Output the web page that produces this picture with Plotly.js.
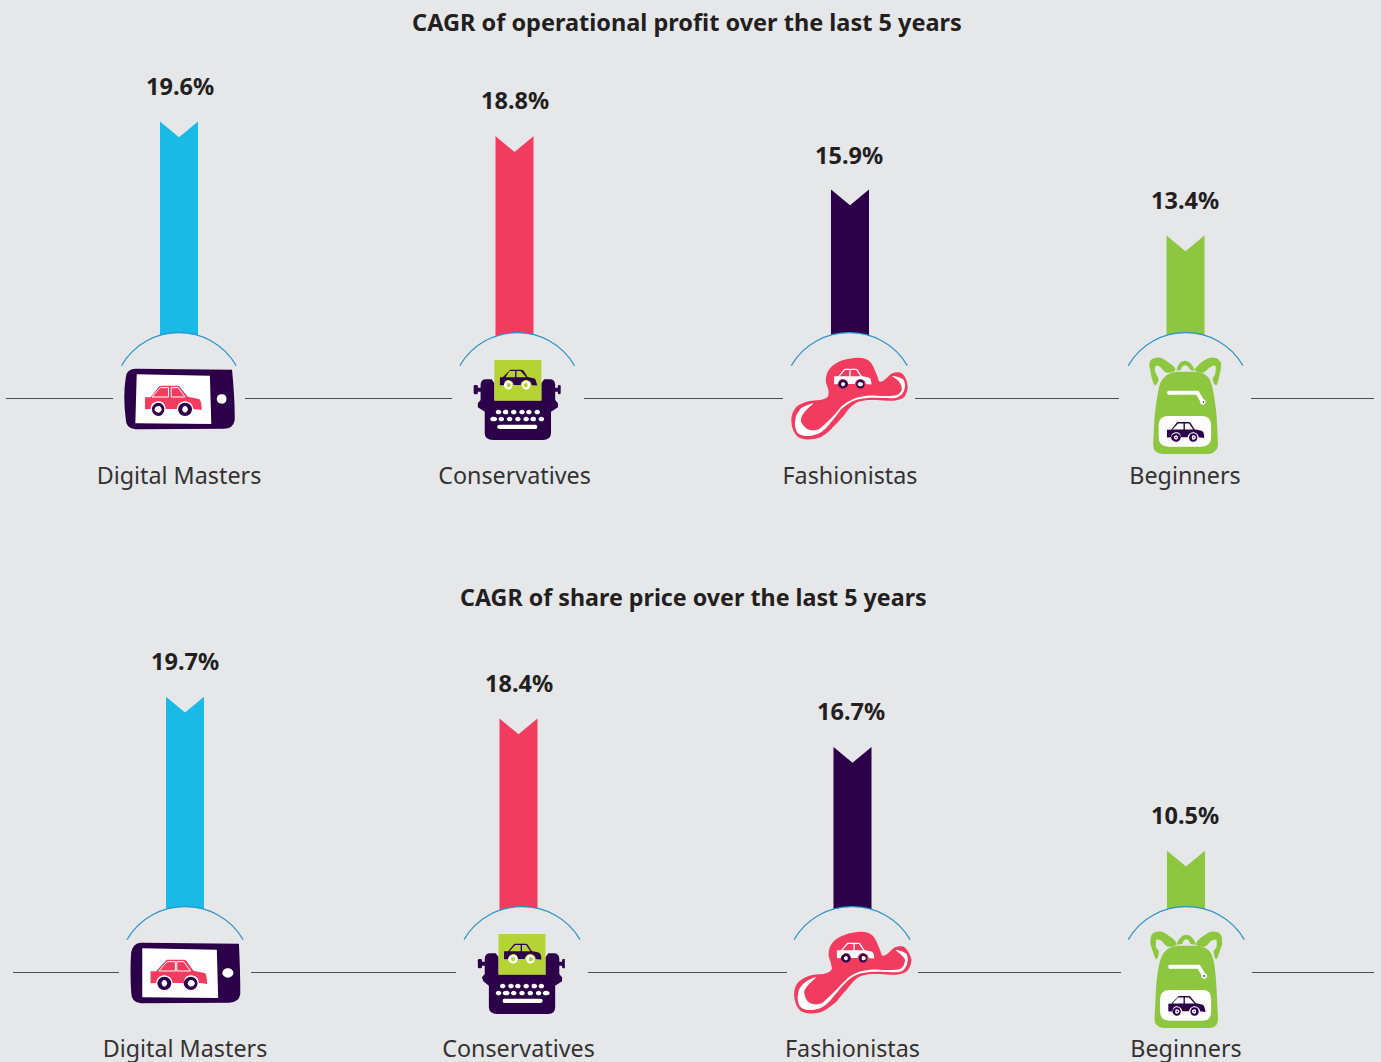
<!DOCTYPE html>
<html><head><meta charset="utf-8">
<script src="https://cdn.plot.ly/plotly-3.0.1.min.js"></script>
<style>html,body{margin:0;padding:0;background:#e6e7e9;overflow:hidden}#c{width:1381px;height:1062px}</style>
</head><body><div id="c"></div>
<script>
const categories = ["Digital Masters","Conservatives","Fashionistas","Beginners"];
const profitCagr = [19.6,18.8,15.9,13.4];
const shareCagr  = [19.7,18.4,16.7,10.5];
const profitBarX = [179,514.5,850,1185.5];
const shareBarX  = [185,518.5,852.5,1186];
const profitTickX = [179,514.5,850,1185];
const shareTickX  = [185,518.5,852.5,1186];
const profitValueX = [179.5,515,849,1184.5];
const shareValueX  = [185,519,850.5,1184.5];
const profitValueShift = [35,35.5,34,35];
const shareValueShift  = [35.5,35,35.5,35.5];
const barColors = ["#19bbe6","#f13c60","#2b0049","#8dc63f"];
const titleTop = "CAGR of operational profit over the last 5 years";
const titleBottom = "CAGR of share price over the last 5 years";
const BG = "#e6e7e9", DARK="#2b0049", RED="#f13c60", GREEN="#8dc63f", LIME="#b5d334", WHITE="#ffffff";

const W=1381,H=1062;
const px=x=>x/W, py=y=>1-y/H;
const shapes=[];

// ---------- icon helpers: paths are authored in 3x crop coordinates
function mapPath(d,f){
  return d.replace(/(-?\d+(?:\.\d+)?)\s+(-?\d+(?:\.\d+)?)/g,(m,a,b)=>{
    const p=f(+a,+b);return p[0].toFixed(3)+" "+p[1].toFixed(5);
  });
}
function ell(cx,cy,rx,ry){ry=ry===undefined?rx:ry;const k=.5523;
  return `M ${cx-rx} ${cy} C ${cx-rx} ${cy-k*ry} ${cx-k*rx} ${cy-ry} ${cx} ${cy-ry} C ${cx+k*rx} ${cy-ry} ${cx+rx} ${cy-k*ry} ${cx+rx} ${cy} C ${cx+rx} ${cy+k*ry} ${cx+k*rx} ${cy+ry} ${cx} ${cy+ry} C ${cx-k*rx} ${cy+ry} ${cx-rx} ${cy+k*ry} ${cx-rx} ${cy} Z`;}
function rr(x0,y0,x1,y1,r){
  return `M ${x0+r} ${y0} L ${x1-r} ${y0} Q ${x1} ${y0} ${x1} ${y0+r} L ${x1} ${y1-r} Q ${x1} ${y1} ${x1-r} ${y1} L ${x0+r} ${y1} Q ${x0} ${y1} ${x0} ${y1-r} L ${x0} ${y0+r} Q ${x0} ${y0} ${x0+r} ${y0} Z`;}
// closed smooth outline through hand-traced icon points
function blob(p){
  const n=p.length,g=i=>p[(i+n)%n];let d=`M ${p[0][0]} ${p[0][1]}`;
  for(let i=0;i<n;i++){const a=g(i-1),b=g(i),c=g(i+1),e=g(i+2);
    d+=` C ${(b[0]+(c[0]-a[0])/6).toFixed(2)} ${(b[1]+(c[1]-a[1])/6).toFixed(2)} ${(c[0]-(e[0]-b[0])/6).toFixed(2)} ${(c[1]-(e[1]-b[1])/6).toFixed(2)} ${c[0]} ${c[1]}`;}
  return d+" Z";}
function car(x0,y0,s,c){
  const T=d=>mapPath(d,(x,y)=>[x0+x*s,y0+y*s]);
  const out=[];
  out.push({d:T("M 0 73 L 0 37 L 15 37 L 43 5 Q 45 2 50 2 L 98 2 Q 102 2 105 5 L 127 35 L 160 42 Q 168 45 170 75 Q 150 72 140 72 L 30 72 Z"),fill:c.body});
  const wl=["M 22 36 L 47 8 L 72 8 L 72 36 Z","M 78 8 L 98 8 L 120 36 L 78 36 Z"];
  wl.forEach(w=>out.push({d:T(w),fill:c.win,lc:c.winLine,lw:c.winLine?1:0}));
  [40,120].forEach(wx=>{
    out.push({d:T(ell(wx,73,24)),fill:c.ring});
    out.push({d:T(ell(wx,73,20)),fill:c.tyre});
    out.push({d:T(ell(wx,73,10)),fill:c.hub});
    if(c.dot) out.push({d:T(ell(wx,73,3.5)),fill:c.dot});
  });
  return out;
}
const icons={
 phone:{crop:[100,320],els:[
  {d:"M 105 146 L 397 149 Q 403 230 403 300 Q 400 326 370 326 L 105 328 Q 76 326 75 295 Q 70 230 75 175 Q 78 148 105 146 Z",fill:DARK},
  {d:"M 110 163 L 331 167 L 335 312 L 107 310 Z",fill:WHITE},
  {d:ell(365,237,16,14),fill:WHITE},
  ...car(135,195,1,{body:RED,win:RED,winLine:WHITE,ring:WHITE,tyre:DARK,hub:WHITE})
 ],arc:[237,137]},
 typewriter:{crop:[440,320],els:[
  {d:rr(102,195,113,223,4),fill:DARK},{d:rr(352,195,363,223,4),fill:DARK},
  {d:rr(108,203,125,215,0),fill:DARK},{d:rr(340,203,357,215,0),fill:DARK},
  {d:"M 120 195 Q 120 178 138 178 L 153 178 L 163 190 L 163 241 L 303 241 L 303 190 L 313 178 L 328 178 Q 345 178 345 195 L 345 240 L 352 250 L 352 262 L 332 275 L 332 340 Q 332 360 310 360 L 157 360 Q 135 360 135 340 L 135 275 L 115 262 L 113 250 L 120 240 Z",fill:DARK},
  {d:rr(163,120,303,242,0),fill:LIME},
  ...car(180,148,.65,{body:DARK,win:LIME,ring:LIME,tyre:WHITE,hub:LIME}),
  ...[175,198,221,245,268,291].map(x=>({d:ell(x,276,8.5,7),fill:WHITE})),
  ...[161,185,209,233,257,281,305].map(x=>({d:ell(x,297,8.5,7),fill:WHITE})),
  {d:rr(173,314,293,327,6),fill:WHITE}
 ],arc:[232.5,137]},
 hat:{crop:[770,320],els:[
  {d:blob([[168,180],[180,145],[215,122],[265,113],[300,125],[320,165],[330,185],[347,178],[365,160],[395,160],[414,195],[402,230],[370,242],[320,240],[280,242],[250,254],[220,287],[190,322],[150,352],[105,358],[75,342],[65,300],[75,265],[110,245],[150,240],[172,232],[177,215]]),fill:RED},
  {d:blob([[130,250],[95,265],[75,300],[80,335],[108,348],[150,338],[185,305],[215,268],[250,243],[290,234],[345,234],[385,232],[405,205],[398,178],[368,168],[388,185],[396,205],[382,224],[345,228],[290,227],[250,237],[215,260],[180,298],[145,328],[112,328],[95,305],[100,280]]),fill:WHITE},
  ...car(193,145,.65,{body:WHITE,win:RED,ring:RED,tyre:DARK,hub:WHITE})
 ],arc:[237.5,137]},
 backpack:{crop:[1110,320],els:[
  {d:blob([[133,195],[120,150],[122,122],[150,113],[180,130],[197,150],[172,158],[150,140],[136,138],[136,160],[145,178]]),fill:GREEN},
  {d:blob([[319,195],[332,150],[330,122],[302,113],[272,130],[255,150],[280,158],[302,140],[316,138],[316,160],[307,178]]),fill:GREEN},
  {d:"M 198 152 Q 205 123 226 122 Q 247 123 254 152 L 240 150 Q 235 136 226 136 Q 217 136 212 150 Z",fill:GREEN},
  {d:"M 150 190 Q 165 157 200 155 L 255 155 Q 295 157 305 190 Q 312 210 318 290 L 323 375 Q 322 400 295 402 L 160 402 Q 130 400 130 375 L 135 290 Q 140 220 150 190 Z",fill:GREEN},
  {d:"M 177 218 L 262 218 L 280 246",fill:"none",lc:WHITE,lw:4},
  {d:ell(177,218,6),fill:WHITE},
  {d:ell(280,246,8),fill:WHITE},
  {d:ell(280,246,2.5),fill:DARK},
  {d:rr(148,288,302,380,28),fill:WHITE},
  ...car(172,305,.65,{body:DARK,win:WHITE,ring:WHITE,tyre:DARK,hub:WHITE,dot:DARK})
 ],arc:[225.5,137]}
};
function drawIcon(name,dx,dy){
  const ic=icons[name],[cx,cy]=ic.crop;
  const f=(x,y)=>[px(cx+x/3+dx),py(cy+y/3+dy)];
  // arch in crop coordinates: half chord 172.5, peak 99 above the chord
  const [ax,ay]=ic.arc;
  const a=`M ${ax-172.5} ${ay} C ${ax-98} ${ay-132} ${ax+98} ${ay-132} ${ax+172.5} ${ay}`;
  shapes.push({type:"path",xref:"paper",yref:"paper",path:mapPath(a+" Z",f),fillcolor:BG,line:{width:0}});
  shapes.push({type:"path",xref:"paper",yref:"paper",path:mapPath(a,f),line:{color:"#2a93c9",width:1.2}});
  ic.els.forEach(e=>{
    shapes.push({type:"path",xref:"paper",yref:"paper",path:mapPath(e.d,f),
      fillcolor:e.fill==="none"?"rgba(0,0,0,0)":e.fill,
      line:{color:e.lc||"rgba(0,0,0,0)",width:e.lw||0}});
  });
}
const iconNames=["phone","typewriter","hat","backpack"];
const dxBottom=[6,4.5,3,1];
iconNames.forEach((n,i)=>{drawIcon(n,0,0);drawIcon(n,dxBottom[i],574);});

// rule segments either side of the icons
const rules=[[398.5,[[6,113],[245,452],[584,783],[915,1119],[1251,1374]]],
             [972.5,[[13,119],[251,456],[588,787],[918,1121],[1252,1374]]]];
rules.forEach(([y,segs])=>segs.forEach(([a,b])=>shapes.push({type:"line",xref:"paper",yref:"paper",x0:px(a),x1:px(b),y0:py(y),y1:py(y),line:{color:"#4d4d4f",width:1}})));

// notches on the bar tops, anchored to the data
function notches(xs,vals,xr,yr){
  xs.forEach((x,i)=>shapes.push({type:"path",xref:xr,yref:yr,xsizemode:"pixel",ysizemode:"pixel",xanchor:x,yanchor:vals[i],
    path:"M -20.5 1 L 0 -16 L 20.5 1 Z",fillcolor:BG,line:{width:0}}));
}
notches(profitBarX,profitCagr,"x","y");
notches(shareBarX,shareCagr,"x2","y2");

const valueFont={family:"Noto Sans",size:23.5,color:"#231f20"};
function valueAnn(xs,vals,shift,xr,yr){
  return vals.map((v,i)=>({x:xs[i],y:v,xref:xr,yref:yr,text:"<b>"+v.toFixed(1)+"%</b>",showarrow:false,yshift:shift[i],xanchor:"center",yanchor:"middle",font:valueFont}));
}
const annotations=[
  ...valueAnn(profitValueX,profitCagr,profitValueShift,"x","y"),
  ...valueAnn(shareValueX,shareCagr,shareValueShift,"x2","y2"),
  {x:px(693.5),y:py(597),xref:"paper",yref:"paper",text:"<b>"+titleBottom+"</b>",showarrow:false,xanchor:"center",yanchor:"middle",font:{family:"Noto Sans",size:23.25,color:"#231f20"}}
];
const mkBar=(x,y,xa,ya)=>({type:"bar",x,y,xaxis:xa,yaxis:ya,width:38,marker:{color:barColors,line:{width:0}},hoverinfo:"skip",showlegend:false});
const traces=[mkBar(profitBarX,profitCagr,"x","y"),mkBar(shareBarX,shareCagr,"x2","y2")];

const catAxis=(tx,pos)=>({range:[0,W],domain:[0,1],anchor:"free",position:pos,tickmode:"array",tickvals:tx,ticktext:categories,
  ticklen:0,showgrid:false,zeroline:false,showline:false,fixedrange:true,tickangle:0,
  tickfont:{family:"Noto Sans",size:23.3,color:"#333333"}});
const valAxis=(dom,rng,anc)=>({domain:dom,range:rng,anchor:anc,visible:false,fixedrange:true,showgrid:false,zeroline:false});
const layout={width:W,height:H,margin:{l:0,r:0,t:0,b:0,pad:0},paper_bgcolor:BG,plot_bgcolor:"rgba(0,0,0,0)",
  title:{text:"<b>"+titleTop+"</b>",x:px(687),xanchor:"center",xref:"paper",y:py(23),yanchor:"middle",yref:"paper",font:{family:"Noto Sans",size:23.5,color:"#231f20"}},
  barmode:"overlay",showlegend:false,
  xaxis:catAxis(profitTickX,py(460)),
  xaxis2:catAxis(shareTickX,py(1032.5)),
  yaxis:valAxis([py(360),py(60)],[(481.8-360)/18.4,(481.8-60)/18.4],"x"),
  yaxis2:valAxis([py(930),py(640)],[(1026.3-930)/16.74,(1026.3-640)/16.74],"x2"),
  shapes,annotations};
Plotly.newPlot("c",traces,layout,{displayModeBar:false,staticPlot:true});
</script></body></html>
